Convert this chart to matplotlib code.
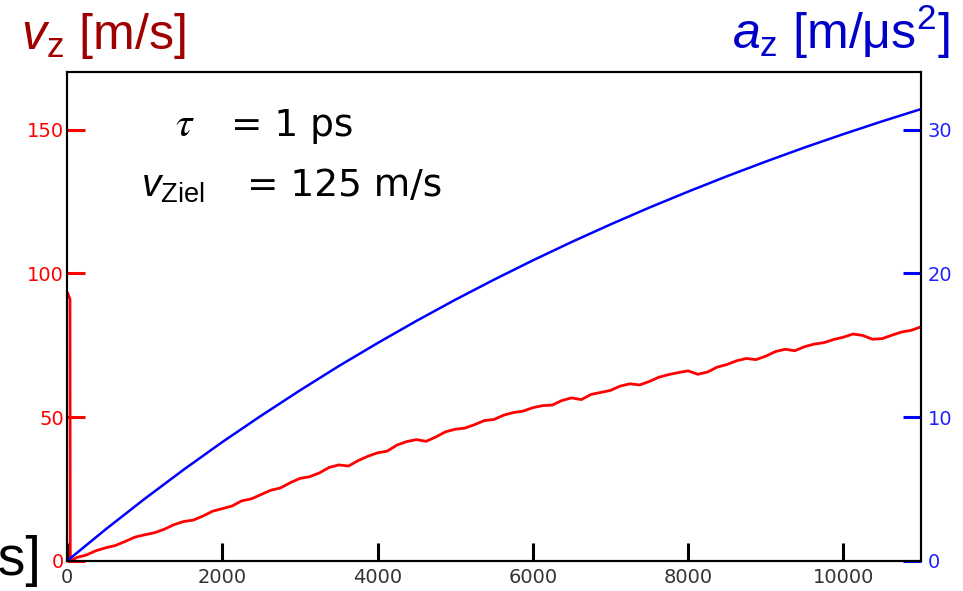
#!/usr/bin/env python3
"""Velocity and acceleration of the cluster centre vs. simulation time (tau = 1 ps)."""

import matplotlib

matplotlib.use("Agg")
import matplotlib.pyplot as plt

# ---------------------------------------------------------------------------
# Data
# ---------------------------------------------------------------------------

# start-up transient (fs, m/s)
time_start_fs = [10, 38, 42]
v_start = [93.0, 91.0, 0.0]

# v_z sampled every 125 fs
time_v_fs = list(range(125, 11001, 125))
v_z = [1.2, 2.1, 3.6, 4.6, 5.4, 6.8, 8.3, 9.1,
       9.8, 11.0, 12.6, 13.7, 14.2, 15.6, 17.3, 18.2,
       19.1, 20.9, 21.6, 23.1, 24.6, 25.4, 27.2, 28.7,
       29.3, 30.6, 32.5, 33.4, 33.0, 34.9, 36.4, 37.6,
       38.2, 40.3, 41.5, 42.2, 41.6, 43.1, 44.9, 45.8,
       46.2, 47.4, 48.8, 49.2, 50.7, 51.6, 52.1, 53.3,
       54.0, 54.2, 55.8, 56.7, 56.1, 57.9, 58.6, 59.3,
       60.8, 61.6, 61.2, 62.4, 63.9, 64.8, 65.5, 66.1,
       64.9, 65.7, 67.4, 68.3, 69.6, 70.4, 70.0, 71.2,
       72.8, 73.6, 73.1, 74.5, 75.4, 75.9, 77.0, 77.8,
       78.9, 78.4, 77.1, 77.3, 78.5, 79.6, 80.2, 81.4]

# a_z in m/us^2 sampled every 500 fs
time_a_fs = [0, 500, 1000, 1500, 2000, 2500, 3000, 3500, 4000, 4500, 5000,
             5500, 6000, 6500, 7000, 7500, 8000, 8500, 9000, 9500, 10000,
             10500, 11000]
a_z = [0.0, 2.21, 4.32, 6.34, 8.27, 10.10, 11.86, 13.55, 15.15, 16.69, 18.16,
       19.56, 20.90, 22.18, 23.40, 24.57, 25.68, 26.75, 27.77, 28.75, 29.68,
       30.57, 31.42]

v_ticks = [0, 50, 100, 150]
a_ticks = [0, 10, 20, 30]
t_ticks = [0, 2000, 4000, 6000, 8000, 10000]

# ---------------------------------------------------------------------------
# Plot
# ---------------------------------------------------------------------------

plt.rcParams["mathtext.fontset"] = "custom"
plt.rcParams["mathtext.rm"] = "Liberation Sans"
plt.rcParams["mathtext.it"] = "Liberation Sans:italic"

RED = "#FF0000"
DARKRED = "#A00000"
BLUE = "#0000FF"
DARKBLUE = "#0000C8"

fig = plt.figure(figsize=(9.63, 5.91), dpi=100)
ax = fig.add_axes([0.0696, 0.0508, 0.8868, 0.8274])
ax2 = ax.twinx()

ax.plot(time_start_fs + time_v_fs, v_start + v_z, color=RED, linewidth=2.0)
ax2.plot(time_a_fs, a_z, color=BLUE, linewidth=1.8)

ax.set_xlim(0, 11000)
ax.set_ylim(0, 170)
ax2.set_ylim(0, 34)

ax.set_xticks(t_ticks)
ax.set_yticks(v_ticks)
ax2.set_yticks(a_ticks)

ax.tick_params(axis="x", direction="in", length=13, width=2.2, color="black",
               labelcolor="#333333", labelsize=14, pad=5)
ax.tick_params(axis="y", direction="in", length=13, width=2.2, color=RED,
               labelcolor=RED, labelsize=14, pad=2)
ax2.tick_params(axis="y", direction="in", length=13, width=2.2, color=BLUE,
                labelcolor="#2222FF", labelsize=14, pad=5)

for a in (ax, ax2):
    for spine in a.spines.values():
        spine.set_linewidth(1.5)
        spine.set_color("black")

for lab in ax.get_xticklabels() + ax.get_yticklabels() + ax2.get_yticklabels():
    lab.set_family("DejaVu Sans")

# axis titles above the frame
fig.text(0.022, 0.917, r"$v_\mathrm{z}$ [m/s]", color=DARKRED, fontsize=36,
         family="Liberation Sans", ha="left", va="baseline")
fig.text(0.986, 0.917, r"$a_\mathrm{z}$ [m/$\mathrm{\mu}$s$^2$]", color=DARKBLUE,
         fontsize=36, family="Liberation Sans", ha="right", va="baseline")
fig.text(0.042, 0.027, "t [fs]", color="black", fontsize=40,
         family="Liberation Sans", ha="right", va="baseline")

# simulation parameters
fig.text(0.182, 0.770, r"$\tau$", math_fontfamily="stix", fontsize=30,
         color="black", ha="left", va="baseline")
fig.text(0.240, 0.770, "= 1 ps", fontsize=27, family="DejaVu Sans",
         color="black", ha="left", va="baseline")
fig.text(0.146, 0.668, r"$v_\mathrm{Ziel}$", fontsize=28,
         color="black", ha="left", va="baseline")
fig.text(0.256, 0.668, "= 125 m/s", fontsize=27, family="DejaVu Sans",
         color="black", ha="left", va="baseline")

fig.savefig("out.png", dpi=100)
